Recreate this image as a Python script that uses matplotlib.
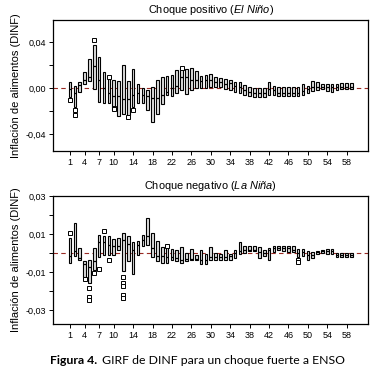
import matplotlib
matplotlib.use("Agg")
import matplotlib.pyplot as plt
import numpy as np

plt.rcParams['font.family'] = ['Liberation Sans', 'DejaVu Sans']
plt.rcParams['mathtext.fontset'] = 'custom'
plt.rcParams['mathtext.it'] = 'Liberation Sans:italic'
plt.rcParams['mathtext.rm'] = 'Liberation Sans'

horizons = np.arange(1, 60)
xtick_labels = [1, 4, 7, 10, 14, 18, 22, 26, 30, 34, 38, 42, 46, 50, 54, 58]

# Choque positivo (El Nino): box bottom, box top, median, outliers
pos_lo = [-0.0078, -0.016, -0.0035, 0.004, 0.006, -0.001, -0.0116, -0.0125, -0.013, -0.019,
          -0.024, -0.022, -0.023, -0.016, -0.013, -0.013, -0.019, -0.029, -0.022, -0.0136,
          -0.006, -0.007, -0.004, -0.0015, -0.005, -0.0015, 0.0, 0.0, 0.0, 0.001,
          0.001, 0.001, -0.001, -0.0015, -0.003, -0.004, -0.006, -0.007, -0.008, -0.008,
          -0.008, -0.006, -0.006, -0.007, -0.007, -0.007, -0.007, -0.007, -0.006, -0.0045,
          -0.002, -0.0015, -0.001, -0.002, -0.003, -0.0015, -0.001, -0.001, -0.001]
pos_hi = [0.0052, 0.002, 0.005, 0.014, 0.025, 0.038, 0.027, 0.0145, 0.008, 0.007,
          0.006, 0.020, 0.006, 0.0165, 0.0035, 0.0, -0.0015, 0.001, 0.007, 0.0096,
          0.011, 0.0116, 0.016, 0.018, 0.0168, 0.0174, 0.015, 0.011, 0.0116, 0.0125,
          0.010, 0.009, 0.008, 0.007, 0.005, 0.005, 0.003, 0.001, 0.0, 0.0,
          0.0, 0.005, 0.002, 0.001, 0.001, 0.001, 0.001, 0.001, 0.004, 0.002,
          0.006, 0.005, 0.004, 0.004, 0.004, 0.004, 0.0045, 0.0045, 0.0045]
pos_med = [-0.001, -0.004, 0.003, 0.007, 0.010, 0.019, 0.007, 0.0, -0.004, -0.007,
           -0.007, -0.0096, -0.0096, -0.006, -0.0043, -0.006, -0.007, -0.0087, -0.0087, -0.006,
           -0.003, 0.0, 0.002, 0.0096, 0.0096, 0.007, 0.007, 0.006, 0.007, 0.007,
           0.0058, 0.005, 0.0038, 0.0043, 0.002, 0.001, -0.0015, -0.003, -0.0043, -0.0043,
           -0.0043, -0.001, -0.0015, -0.0038, -0.0038, -0.0038, -0.0038, -0.0038, -0.002, -0.001,
           0.001, 0.001, 0.0015, 0.001, 0.001, 0.001, 0.0015, 0.0015, 0.0015]
pos_out = {1: [-0.010], 2: [-0.019, -0.023], 6: [0.042], 9: [0.010], 10: [-0.017, -0.018],
           13: [-0.025], 14: [-0.019], 24: [0.018]}

# Choque negativo (La Nina)
neg_lo = [-0.0053, -0.0018, -0.0035, -0.0126, -0.0158, -0.0090, -0.002, -0.0009, -0.0009, -0.0009,
          0.0018, -0.0096, -0.0044, -0.0109, -0.0009, 0.0035, 0.0044, -0.002, -0.0044, -0.0053,
          -0.0053, -0.0039, -0.0044, -0.0053, -0.0044, -0.0039, -0.0039, -0.0056, -0.006, -0.0039,
          -0.0039, -0.0035, -0.0039, -0.0039, -0.0026, -0.0004, 0.0, 0.0009, 0.0009, -0.0026,
          -0.0018, -0.0035, 0.0004, 0.0018, 0.0009, 0.0004, 0.0004, -0.002, -0.0014, -0.0035,
          -0.0026, -0.0004, 0.0, -0.0004, -0.0004, -0.002, -0.002, -0.002, -0.002]
neg_hi = [0.0079, 0.016, 0.0026, -0.004, -0.0035, 0.0026, 0.0096, 0.009, 0.0088, 0.0074,
          0.0079, 0.0105, 0.0088, 0.0056, 0.0061, 0.0096, 0.0184, 0.0105, 0.0061, 0.0032,
          0.0035, 0.002, 0.0014, 0.0032, 0.0, 0.002, -0.0009, 0.0014, -0.0004, 0.0032,
          0.0, -0.0004, 0.0018, -0.0004, 0.0014, 0.0056, 0.0039, 0.0039, 0.0039, 0.0032,
          0.0018, 0.0026, 0.0035, 0.0035, 0.0035, 0.0035, 0.0035, 0.002, 0.002, 0.0009,
          0.0004, 0.0009, 0.0014, 0.002, 0.002, 0.0, 0.0, 0.0, 0.0]
neg_med = [-0.0014, 0.001, -0.0026, -0.006, -0.0074, -0.004, 0.006, 0.006, 0.0044, 0.0039,
           0.0039, 0.0067, 0.0049, 0.0018, 0.0044, 0.007, 0.0088, 0.0026, -0.0014, -0.0014,
           -0.0021, -0.0021, -0.0026, -0.0035, -0.0032, -0.0032, -0.0032, -0.0039, -0.0035, -0.0021,
           -0.0021, -0.0021, -0.0021, -0.0014, 0.0, 0.0009, 0.0014, 0.0018, 0.0018, 0.0004,
           0.0, 0.0018, 0.0026, 0.0026, 0.0026, 0.0026, 0.0018, 0.0, 0.0004, -0.0009,
           -0.0009, 0.0004, 0.0009, 0.0009, 0.0009, -0.001, -0.001, -0.001, -0.001]
neg_out = {1: [0.0105], 4: [-0.0137], 5: [-0.0184, -0.0232, -0.0249], 6: [-0.0105],
           7: [-0.0084], 8: [0.0114], 9: [-0.0039], 12: [-0.0126, -0.0158, -0.0175, -0.0219, -0.0237],
           21: [0.0039], 48: [-0.0035, -0.005]}


def make_stats(lo, hi, med, out):
    stats = []
    for i, h in enumerate(horizons):
        stats.append(dict(q1=lo[i], q3=hi[i], med=med[i], whislo=lo[i], whishi=hi[i],
                          fliers=out.get(h, []), label=str(h)))
    return stats


def draw_panel(ax, stats, ylim, major, labels, title):
    ax.bxp(stats, positions=horizons, widths=0.55, patch_artist=True, showcaps=False,
           boxprops=dict(facecolor='#dedede', edgecolor='black', linewidth=0.8),
           medianprops=dict(color='black', linewidth=0.9),
           whiskerprops=dict(linewidth=0),
           flierprops=dict(marker='s', markersize=2.2, markerfacecolor='white',
                           markeredgecolor='black', markeredgewidth=0.7))
    ax.axhline(0, color='#9a2a24', linestyle=(0, (4, 3)), linewidth=0.8, zorder=0)
    ax.set_xlim(-2.5, 62.4)
    ax.set_ylim(*ylim)
    ax.set_xticks(xtick_labels)
    ax.set_xticklabels([str(v) for v in xtick_labels])
    ax.set_yticks(major)
    ax.set_yticklabels(labels)
    ax.tick_params(labelsize=6.5, length=3, width=0.7, pad=2)
    ax.set_ylabel('Inflación de alimentos (DINF)', fontsize=8, labelpad=3)
    ax.set_title(title, fontsize=7.9, pad=5)
    for s in ax.spines.values():
        s.set_linewidth(0.9)


fig = plt.figure(figsize=(3.71, 3.69), dpi=100)
ax1 = fig.add_axes([0.143, 0.591, 0.849, 0.355])
ax2 = fig.add_axes([0.143, 0.122, 0.849, 0.347])

draw_panel(ax1, make_stats(pos_lo, pos_hi, pos_med, pos_out), (-0.0545, 0.0594),
           [-0.04, -0.02, 0.0, 0.02, 0.04], ['-0,04', '', '0,00', '', '0,04'],
           r'Choque positivo ($\mathit{El\ Niño}$)')
draw_panel(ax2, make_stats(neg_lo, neg_hi, neg_med, neg_out), (-0.0374, 0.030),
           [-0.03, -0.02, -0.01, 0.0, 0.01, 0.02, 0.03],
           ['-0,03', '', '-0,01', '', '0,01', '', '0,03'],
           r'Choque negativo ($\mathit{La\ Niña}$)')

fig.text(0.135, 0.024, 'Figura 4.', fontsize=8.8, fontweight='bold', family='Lato', va='center')
fig.text(0.275, 0.024, 'GIRF de DINF para un choque fuerte a ENSO', fontsize=8.8,
         family='Lato', va='center')

fig.savefig('out.png', dpi=100)
